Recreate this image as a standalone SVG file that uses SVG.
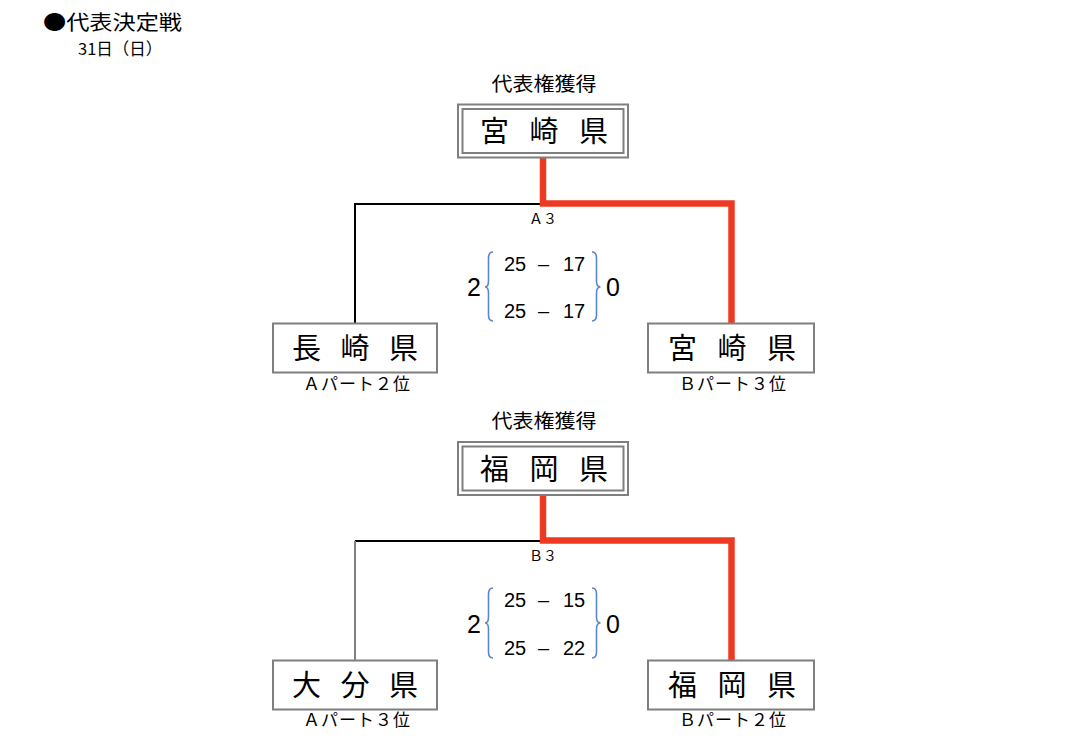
<svg xmlns="http://www.w3.org/2000/svg" width="1079" height="736" viewBox="0 0 1079 736">
<style>
.jp{font-family:"Noto Sans CJK JP","Noto Sans CJK SC",sans-serif;fill:#000}
.num{font-family:"Liberation Sans",Arial,sans-serif;fill:#000}
.box{fill:#fff;stroke:#7f7f7f;stroke-width:2}
.name{font-size:29px;text-anchor:middle}
.sub{font-size:17px;text-anchor:middle;letter-spacing:1px}
.red{fill:none;stroke:#ee3a22;stroke-width:6.5}
.blk{fill:none;stroke:#000;stroke-width:2}
.gry{fill:none;stroke:#808080;stroke-width:2}
.brace{fill:none;stroke:#5a87c8;stroke-width:1.6}
.sc{font-size:20px;text-anchor:middle}
.big{font-size:25px;text-anchor:middle}
</style>
<rect width="1079" height="736" fill="#fff"/>
<text class="jp" x="43" y="30" font-size="20" textLength="139" lengthAdjust="spacingAndGlyphs">●代表決定戦</text>
<text class="jp" x="78" y="55" font-size="16.5">31日（日）</text>

<g id="connectors">
<path class="blk" d="M541,204 H355 V323"/>
<path class="red" d="M543,157.5 V203.5 H731.5 V323"/>
<path class="blk" d="M541,541 H355"/>
<path class="gry" d="M355,541 V660"/>
<path class="red" d="M543,495 V540.5 H731.5 V660"/>
</g>

<g id="match1">
<text class="jp" x="544" y="91" font-size="19" text-anchor="middle" textLength="105" lengthAdjust="spacingAndGlyphs">代表権獲得</text>
<g id="winner1">
<rect class="box" x="458" y="104.5" width="170" height="53"/>
<rect class="box" x="462.5" y="109" width="161" height="44"/>
<text class="jp name" x="544" y="142" font-size="30" textLength="128" lengthAdjust="spacing">宮 崎 県</text>
</g>
<text class="jp" x="543" y="224" font-size="14" text-anchor="middle">Ａ３</text>
<g id="nagasaki">
<rect class="box" x="273" y="323.5" width="164" height="49"/>
<text class="jp name" x="355" y="359" textLength="126" lengthAdjust="spacing">長 崎 県</text>
<text class="jp sub" x="357" y="390">Ａパート２位</text>
</g>
<g id="miyazaki">
<rect class="box" x="648" y="323.5" width="166" height="49"/>
<text class="jp name" x="732" y="359" textLength="128" lengthAdjust="spacing">宮 崎 県</text>
<text class="jp sub" x="733" y="390">Ｂパート３位</text>
</g>
<g id="score1">
<text class="num big" x="474" y="295.5">2</text>
<text class="num big" x="613" y="295.5">0</text>
<path class="brace" d="M493,252 Q488.5,252 488.5,258 L488.5,281 Q488.5,287 485,287 Q488.5,287 488.5,293 L488.5,315 Q488.5,321 493,321"/>
<path class="brace" d="M592,252 Q596.5,252 596.5,258 L596.5,281 Q596.5,287 600.5,287 Q596.5,287 596.5,293 L596.5,315 Q596.5,321 592,321"/>
<text class="num sc" x="515" y="271">25</text><text class="num sc" x="543.5" y="271">–</text><text class="num sc" x="574" y="271">17</text>
<text class="num sc" x="515" y="318">25</text><text class="num sc" x="543.5" y="318">–</text><text class="num sc" x="574" y="318">17</text>
</g>
</g>

<g id="match2">
<text class="jp" x="544" y="428" font-size="19" text-anchor="middle" textLength="105" lengthAdjust="spacingAndGlyphs">代表権獲得</text>
<g id="winner2">
<rect class="box" x="458" y="442" width="170" height="53"/>
<rect class="box" x="462.5" y="446.5" width="161" height="44"/>
<text class="jp name" x="544" y="479.5" font-size="30" textLength="128" lengthAdjust="spacing">福 岡 県</text>
</g>
<text class="jp" x="543" y="561" font-size="14" text-anchor="middle">Ｂ３</text>
<g id="oita">
<rect class="box" x="273" y="660.5" width="164" height="49"/>
<text class="jp name" x="355" y="696" textLength="126" lengthAdjust="spacing">大 分 県</text>
<text class="jp sub" x="357" y="726">Ａパート３位</text>
</g>
<g id="fukuoka">
<rect class="box" x="648" y="660.5" width="166" height="49"/>
<text class="jp name" x="732" y="696" textLength="128" lengthAdjust="spacing">福 岡 県</text>
<text class="jp sub" x="733" y="726">Ｂパート２位</text>
</g>
<g id="score2">
<text class="num big" x="474" y="633">2</text>
<text class="num big" x="613" y="633">0</text>
<path class="brace" d="M493,588 Q488.5,588 488.5,594 L488.5,617 Q488.5,623 485,623 Q488.5,623 488.5,629 L488.5,652 Q488.5,658 493,658"/>
<path class="brace" d="M592,588 Q596.5,588 596.5,594 L596.5,617 Q596.5,623 600.5,623 Q596.5,623 596.5,629 L596.5,652 Q596.5,658 592,658"/>
<text class="num sc" x="515" y="607">25</text><text class="num sc" x="543.5" y="607">–</text><text class="num sc" x="574" y="607">15</text>
<text class="num sc" x="515" y="655">25</text><text class="num sc" x="543.5" y="655">–</text><text class="num sc" x="574" y="655">22</text>
</g>
</g>
</svg>
